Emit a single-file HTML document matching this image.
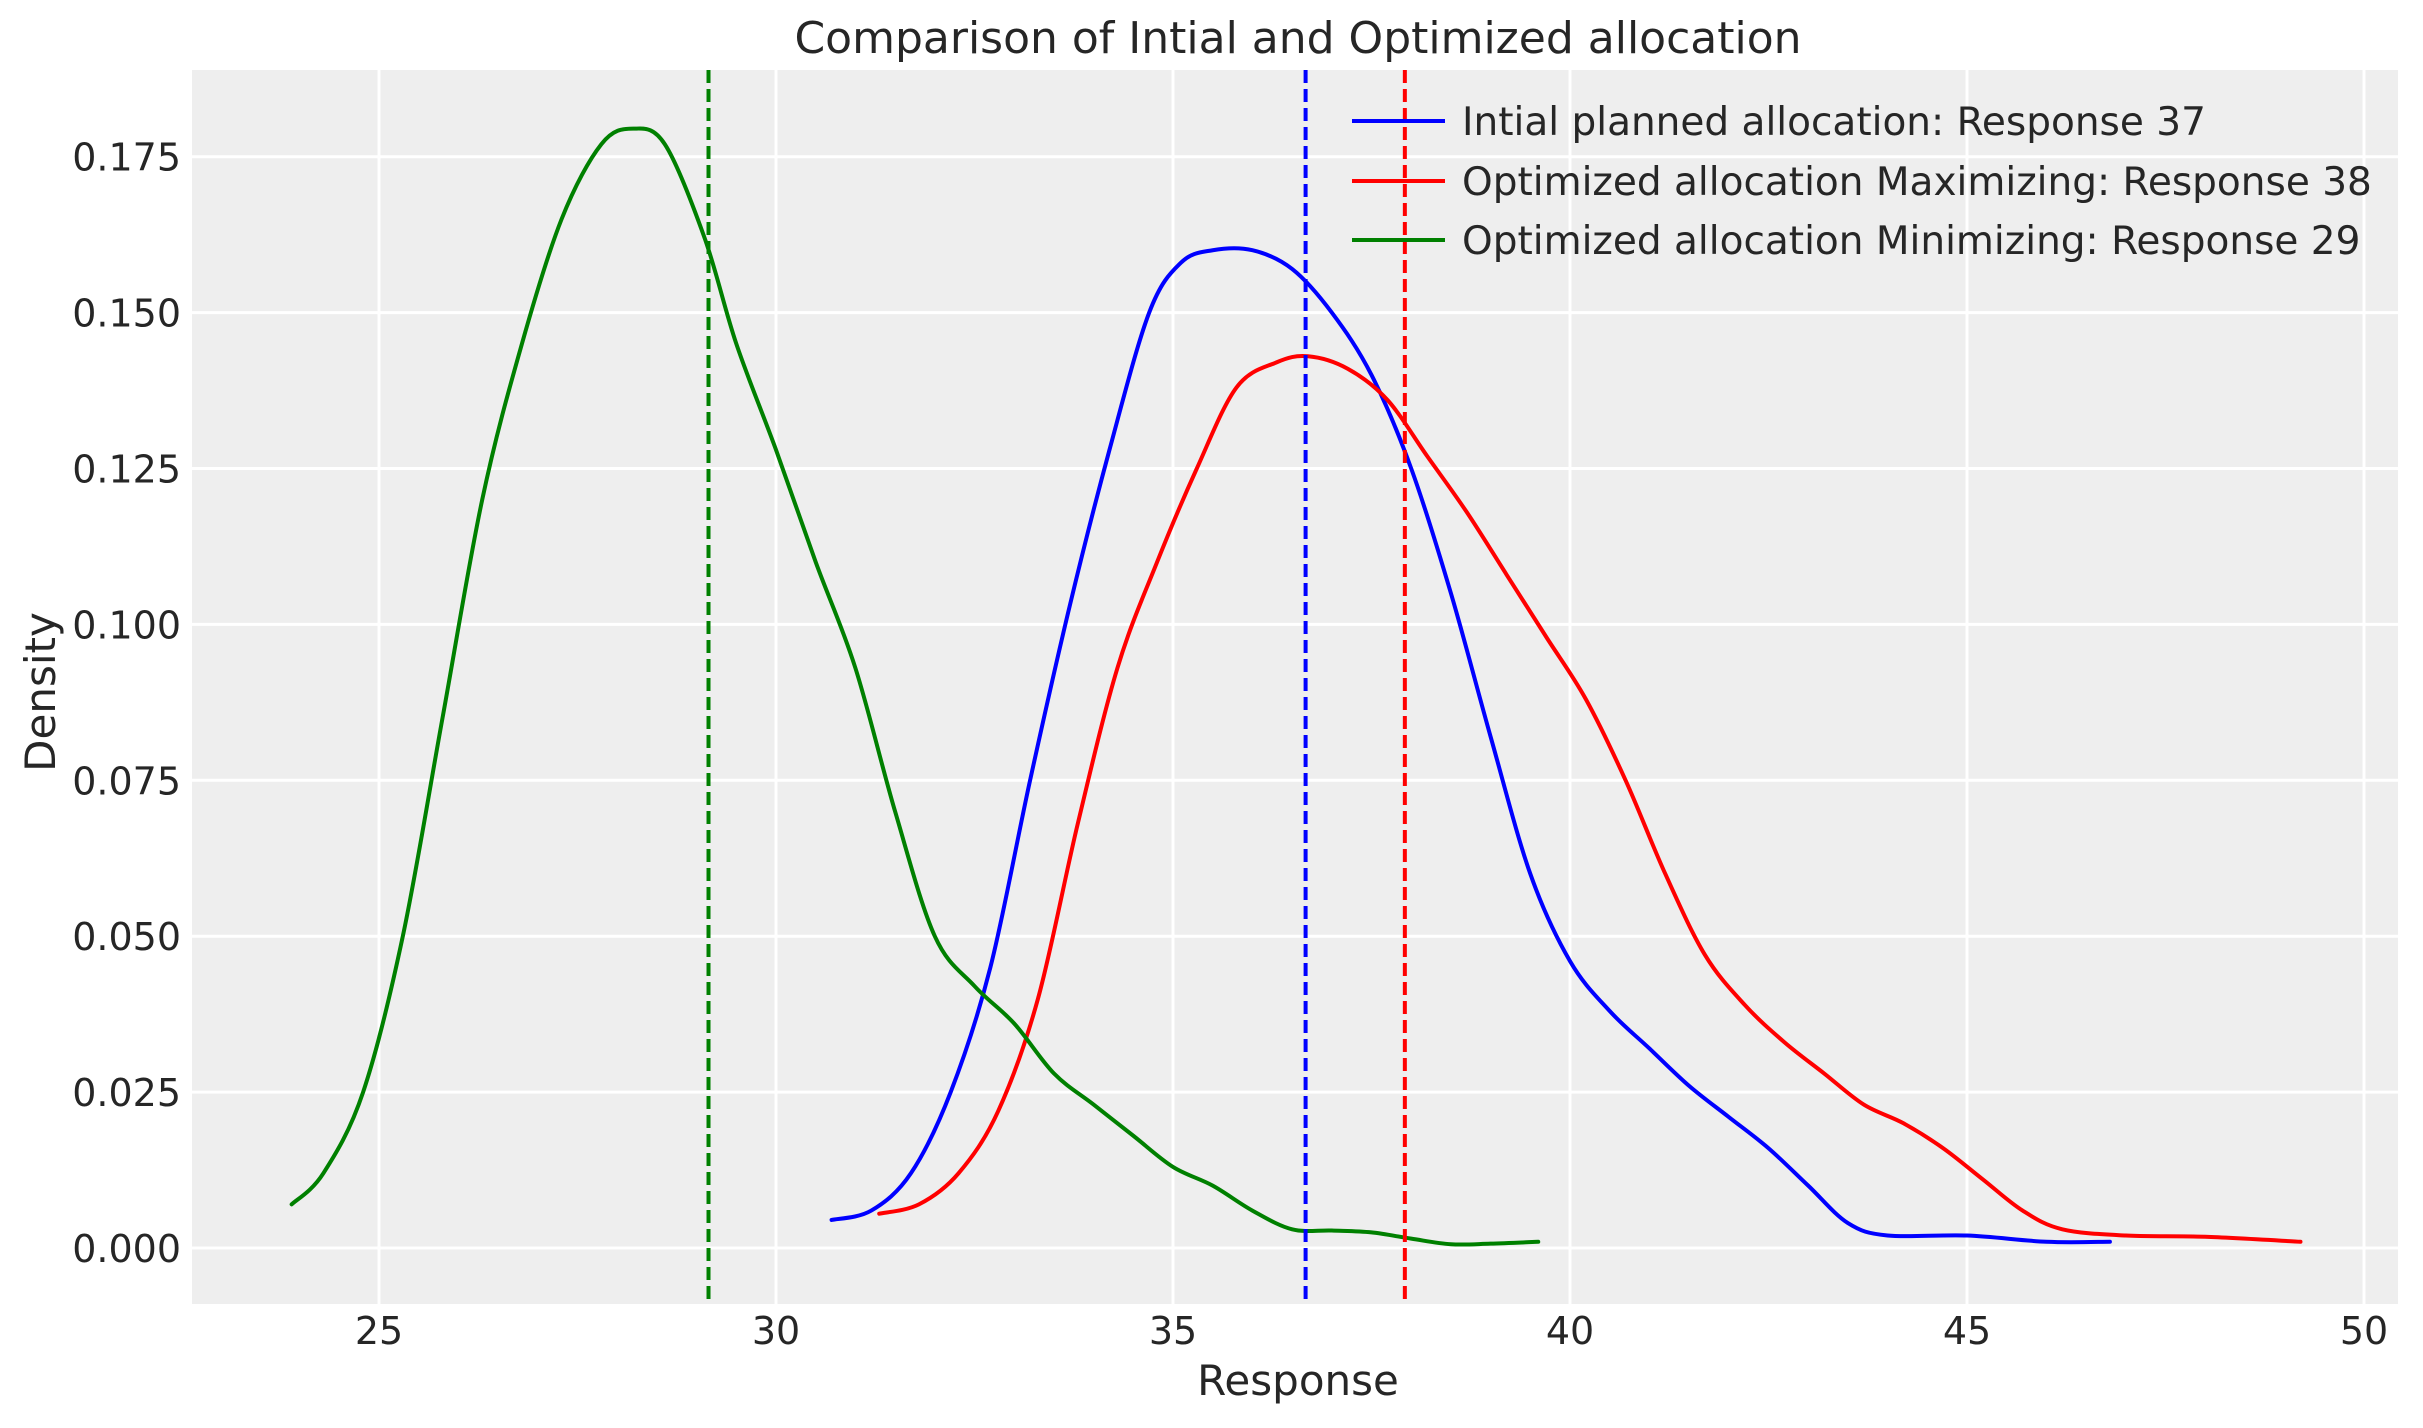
<!DOCTYPE html>
<html><head><meta charset="utf-8"><style>
body{margin:0;background:#fff}
svg text{font-family:"DejaVu Sans","Liberation Sans",sans-serif;fill:#262626}
</style></head><body>
<svg id="s" width="2423" height="1423" xmlns="http://www.w3.org/2000/svg">
<rect x="192" y="70" width="2206" height="1234" fill="#eeeeee"/>
<g id="grid" stroke="#fff" stroke-width="3"></g>
<g id="curves" fill="none" stroke-width="4" stroke-linejoin="round" stroke-linecap="round"></g>
<g id="ticks" font-size="38"></g>
<text x="1298" y="53" font-size="44" text-anchor="middle">Comparison of Intial and Optimized allocation</text>
<text x="1298" y="1395" font-size="42" text-anchor="middle">Response</text>
<text x="0" y="0" font-size="42" text-anchor="middle" transform="translate(55,692) rotate(-90)">Density</text>
<g font-size="39">
<line x1="1352" y1="121" x2="1445" y2="121" stroke="#0000ff" stroke-width="4"/>
<text x="1462" y="135">Intial planned allocation: Response 37</text>
<line x1="1352" y1="181" x2="1445" y2="181" stroke="#ff0000" stroke-width="4"/>
<text x="1462" y="195">Optimized allocation Maximizing: Response 38</text>
<line x1="1352" y1="240" x2="1445" y2="240" stroke="#008000" stroke-width="4"/>
<text x="1462" y="254">Optimized allocation Minimizing: Response 29</text>
</g>
</svg>
<script>
var NS="http://www.w3.org/2000/svg";
function X(v){return 379+(v-25)*79.4}
function Y(d){return 1248-d*6236}
function el(p,t,a,txt){var e=document.createElementNS(NS,t);for(var k in a)e.setAttribute(k,a[k]);if(txt!=null)e.textContent=txt;p.appendChild(e);return e}
var g=document.getElementById('grid'),tk=document.getElementById('ticks'),cv=document.getElementById('curves');
for(var v=25;v<=50;v+=5){el(g,'line',{x1:X(v),x2:X(v),y1:70,y2:1304});el(tk,'text',{x:X(v),y:1344,'text-anchor':'middle'},String(v))}
for(var i=0;i<=7;i++){var d=i*0.025;el(g,'line',{x1:192,x2:2398,y1:Y(d),y2:Y(d)});el(tk,'text',{x:181,y:Y(d)+14,'text-anchor':'end'},d.toFixed(3))}
function path(pts){var P=pts.map(function(p){return[X(p[0]),Y(p[1])]});var s="M"+P[0][0]+","+P[0][1];
for(var i=0;i<P.length-1;i++){var p0=P[Math.max(0,i-1)],p1=P[i],p2=P[i+1],p3=P[Math.min(P.length-1,i+2)];
s+=" C"+(p1[0]+(p2[0]-p0[0])/6)+","+(p1[1]+(p2[1]-p0[1])/6)+" "+(p2[0]-(p3[0]-p1[0])/6)+","+(p2[1]-(p3[1]-p1[1])/6)+" "+p2[0]+","+p2[1];}return s}
var G=[[23.9,0.007],[24.3,0.012],[24.8,0.025],[25.3,0.05],[25.8,0.085],[26.3,0.12],[26.8,0.145],[27.3,0.165],[27.8,0.177],[28.2,0.1795],[28.6,0.177],[29.1,0.162],[29.5,0.145],[30,0.128],[30.5,0.11],[31,0.093],[31.5,0.07],[32,0.05],[32.5,0.042],[33,0.036],[33.5,0.028],[34,0.023],[34.5,0.018],[35,0.013],[35.5,0.01],[36,0.006],[36.5,0.003],[37,0.0028],[37.5,0.0025],[38,0.0015],[38.5,0.0006],[39,0.0007],[39.6,0.001]];
var B=[[30.7,0.0045],[31.2,0.006],[31.7,0.012],[32.2,0.025],[32.7,0.045],[33.2,0.075],[33.7,0.103],[34.2,0.128],[34.7,0.15],[35.1,0.158],[35.5,0.16],[36,0.16],[36.5,0.157],[37,0.15],[37.5,0.14],[38,0.125],[38.5,0.105],[39,0.082],[39.5,0.06],[40,0.046],[40.5,0.038],[41,0.032],[41.5,0.026],[42,0.021],[42.5,0.016],[43,0.01],[43.5,0.004],[44,0.002],[45,0.002],[46,0.001],[46.8,0.001]];
var R=[[31.3,0.0055],[31.8,0.007],[32.3,0.012],[32.8,0.022],[33.3,0.04],[33.8,0.068],[34.3,0.093],[34.8,0.11],[35.3,0.125],[35.8,0.138],[36.3,0.142],[36.7,0.143],[37.2,0.141],[37.7,0.136],[38.2,0.127],[38.7,0.118],[39.2,0.108],[39.7,0.098],[40.2,0.088],[40.7,0.075],[41.2,0.06],[41.7,0.047],[42.2,0.039],[42.7,0.033],[43.2,0.028],[43.7,0.023],[44.2,0.02],[44.7,0.016],[45.2,0.011],[45.7,0.006],[46.2,0.003],[47,0.002],[48,0.0018],[49.2,0.001]];
el(cv,'path',{d:path(B),stroke:'#0000ff'});
el(cv,'path',{d:path(R),stroke:'#ff0000'});
el(cv,'path',{d:path(G),stroke:'#008000'});
[[29.15,'#008000'],[36.67,'#0000ff'],[37.92,'#ff0000']].forEach(function(a){el(cv,'line',{x1:X(a[0]),x2:X(a[0]),y1:70,y2:1304,stroke:a[1],'stroke-dasharray':'13,6','stroke-linecap':'butt'})});
</script>
</body></html>
